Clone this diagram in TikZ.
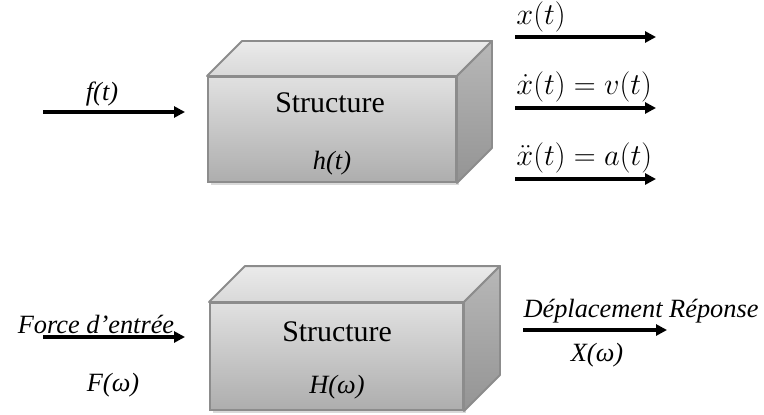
\documentclass[tikz,border=0pt]{standalone}
\usepackage{fontspec}
\setmainfont{Liberation Serif}
\usetikzlibrary{arrows.meta, positioning, calc, shadows}

\begin{document}
\begin{tikzpicture}[
    every node/.style={font=\fontsize{15}{18}\selectfont},
    lab/.style={font=\fontsize{15}{18}\selectfont\itshape},
    title/.style={font=\fontsize{17}{20}\selectfont},
    eq/.style={font=\fontsize{16}{19}\selectfont, anchor=west, inner sep=0pt},
    sig/.style={-{Triangle[length=2.2mm, width=2.2mm]}, line width=1.8pt},
    front/.style={draw=black!45, line width=1.1pt, inner sep=0pt,
        top color=black!12, bottom color=black!32,
        drop shadow={opacity=0.3, shadow xshift=0.6mm, shadow yshift=-0.6mm}},
    topface/.style={draw=black!45, line width=1.1pt, line join=round,
        top color=black!8, bottom color=black!15},
    sideface/.style={draw=black!45, line width=1.1pt, line join=round,
        top color=black!28, bottom color=black!42},
]
    \useasboundingbox (0,0) rectangle (15.28,8.28);

    % Time domain block
    \node[front, minimum width=4.96cm, minimum height=2.10cm] (blk1) at (6.64,5.69) {};
    \draw[topface] (blk1.north west) -- ++(0.70,0.70) -- ($(blk1.north east)+(0.70,0.70)$)
        -- (blk1.north east) -- cycle;
    \draw[sideface] (blk1.south east) -- (blk1.north east) -- ++(0.70,0.70)
        -- ($(blk1.south east)+(0.70,0.70)$) -- cycle;
    \node[title] (str1) at (6.60,6.22) {Structure};
    \node[lab] (h1) at (6.64,5.02) {h(t)};

    % Input force
    \coordinate (fin) at (0.86,6.04);
    \coordinate (fout) at (3.70,6.04);
    \draw[sig] (fin) -- (fout);
    \node[lab] (flab) at (2.04,6.40) {f(t)};

    % Responses
    \coordinate (xin) at (10.30,7.54);
    \coordinate (xout) at (13.12,7.54);
    \coordinate (vin) at (10.30,6.12);
    \coordinate (vout) at (13.12,6.12);
    \coordinate (ain) at (10.30,4.70);
    \coordinate (aout) at (13.12,4.70);
    \draw[sig] (xin) -- (xout);
    \draw[sig] (vin) -- (vout);
    \draw[sig] (ain) -- (aout);
    \node[eq] (xlab) at (10.32,7.94) {$x(t)$};
    \node[eq] (vlab) at (10.32,6.54) {$\dot{x}(t) = v(t)$};
    \node[eq] (alab) at (10.32,5.12) {$\ddot{x}(t) = a(t)$};

    % Frequency domain block
    \node[front, minimum width=5.06cm, minimum height=2.14cm] (blk2) at (6.73,1.15) {};
    \draw[topface] (blk2.north west) -- ++(0.72,0.72) -- ($(blk2.north east)+(0.72,0.72)$)
        -- (blk2.north east) -- cycle;
    \draw[sideface] (blk2.south east) -- (blk2.north east) -- ++(0.72,0.72)
        -- ($(blk2.south east)+(0.72,0.72)$) -- cycle;
    \node[title] (str2) at (6.74,1.64) {Structure};
    \node[lab] (H2) at (6.74,0.54) {H(ω)};

    % Input / output spectra
    \coordinate (Fin) at (0.86,1.54);
    \coordinate (Fout) at (3.70,1.54);
    \draw[sig] (Fin) -- (Fout);
    \node[lab] (Flab) at (1.92,1.80) {Force d’entrée};
    \node[lab] (Fw) at (2.26,0.58) {F(ω)};

    \coordinate (Xin) at (10.46,1.68);
    \coordinate (Xout) at (13.34,1.68);
    \draw[sig] (Xin) -- (Xout);
    \node[lab] (Xlab) at (12.82,2.06) {Déplacement Réponse};
    \node[lab] (Xw) at (11.94,1.18) {X(ω)};
\end{tikzpicture}
\end{document}
